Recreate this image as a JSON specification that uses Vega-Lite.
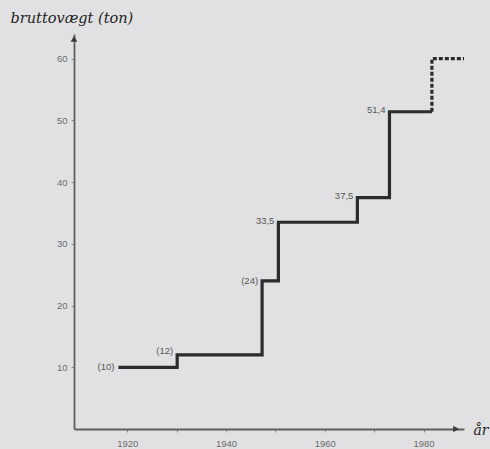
{
  "$schema": "https://vega.github.io/schema/vega-lite/v6.json",
  "width": 390,
  "height": 395,
  "autosize": "none",
  "padding": {"left": 74, "top": 34, "right": 26, "bottom": 20},
  "background": "#e1e1e3",
  "config": {
    "view": {"stroke": null},
    "axis": {
      "grid": false,
      "domainColor": "#5f5f5f",
      "domainWidth": 1.8,
      "tickColor": "#8a8a8a",
      "tickSize": 3,
      "labelColor": "#6a6a6a",
      "labelFont": "Liberation Sans",
      "labelFontSize": 9.5,
      "labelPadding": 4
    }
  },
  "datasets": {
    "solid": [
      {"year": 1918.2, "ton": 10},
      {"year": 1930.1, "ton": 12},
      {"year": 1947.3, "ton": 24},
      {"year": 1950.6, "ton": 33.5},
      {"year": 1966.6, "ton": 37.5},
      {"year": 1973.1, "ton": 51.4},
      {"year": 1981.7, "ton": 51.4}
    ],
    "dashed": [
      {"year": 1981.7, "ton": 51.4},
      {"year": 1988.2, "ton": 60}
    ],
    "labels": [
      {"year": 1918.2, "ton": 10, "label": "(10)"},
      {"year": 1930.1, "ton": 12.6, "label": "(12)"},
      {"year": 1947.3, "ton": 24, "label": "(24)"},
      {"year": 1950.6, "ton": 33.7, "label": "33,5"},
      {"year": 1966.6, "ton": 37.7, "label": "37,5"},
      {"year": 1973.1, "ton": 51.7, "label": "51,4"}
    ]
  },
  "layer": [
    {
      "data": {"name": "solid"},
      "mark": {"type": "line", "interpolate": "step-after", "color": "#2b2b2b", "strokeWidth": 3.2},
      "encoding": {
        "x": {
          "field": "year", "type": "quantitative",
          "scale": {"domain": [1909.2, 1988.2], "nice": false, "zero": false},
          "axis": {
            "values": [1920, 1930, 1940, 1950, 1960, 1970, 1980],
            "labelExpr": "datum.value % 20 == 0 ? '' + datum.value : ''",
            "labelPadding": 6,
            "title": "år",
            "titleFont": "DejaVu Serif",
            "titleFontStyle": "italic",
            "titleFontWeight": "normal",
            "titleFontSize": 14,
            "titleColor": "#222222",
            "titleAlign": "left",
            "titleBaseline": "alphabetic",
            "titleAnchor": "start",
            "titleX": 399,
            "titleY": 5
          }
        },
        "y": {
          "field": "ton", "type": "quantitative",
          "scale": {"domain": [0, 64], "nice": false},
          "axis": {
            "values": [10, 20, 30, 40, 50, 60],
            "title": "bruttovægt (ton)",
            "titleFont": "DejaVu Serif",
            "titleFontStyle": "italic",
            "titleFontWeight": "normal",
            "titleFontSize": 14.5,
            "titleColor": "#222222",
            "titleAngle": 0,
            "titleAlign": "left",
            "titleBaseline": "alphabetic",
            "titleX": -64,
            "titleY": -12
          }
        }
      }
    },
    {
      "data": {"name": "dashed"},
      "mark": {"type": "line", "interpolate": "step-before", "color": "#2b2b2b", "strokeWidth": 3.2, "strokeDash": [4, 2]},
      "encoding": {
        "x": {"field": "year", "type": "quantitative"},
        "y": {"field": "ton", "type": "quantitative"}
      }
    },
    {
      "data": {"name": "labels"},
      "mark": {"type": "text", "align": "right", "baseline": "middle", "dx": -4, "font": "Liberation Sans", "fontSize": 9.5, "color": "#555555"},
      "encoding": {
        "x": {"field": "year", "type": "quantitative"},
        "y": {"field": "ton", "type": "quantitative"},
        "text": {"field": "label"}
      }
    },
    {
      "data": {"values": [{"year": 1909.2, "ton": 63.2}]},
      "mark": {"type": "point", "shape": "triangle-up", "filled": true, "size": 45, "color": "#3a3a3a", "opacity": 1},
      "encoding": {
        "x": {"field": "year", "type": "quantitative"},
        "y": {"field": "ton", "type": "quantitative"}
      }
    },
    {
      "data": {"values": [{"year": 1986.6, "ton": 0}]},
      "mark": {"type": "point", "shape": "triangle-right", "filled": true, "size": 45, "color": "#3a3a3a", "opacity": 1},
      "encoding": {
        "x": {"field": "year", "type": "quantitative"},
        "y": {"field": "ton", "type": "quantitative"}
      }
    }
  ]
}
